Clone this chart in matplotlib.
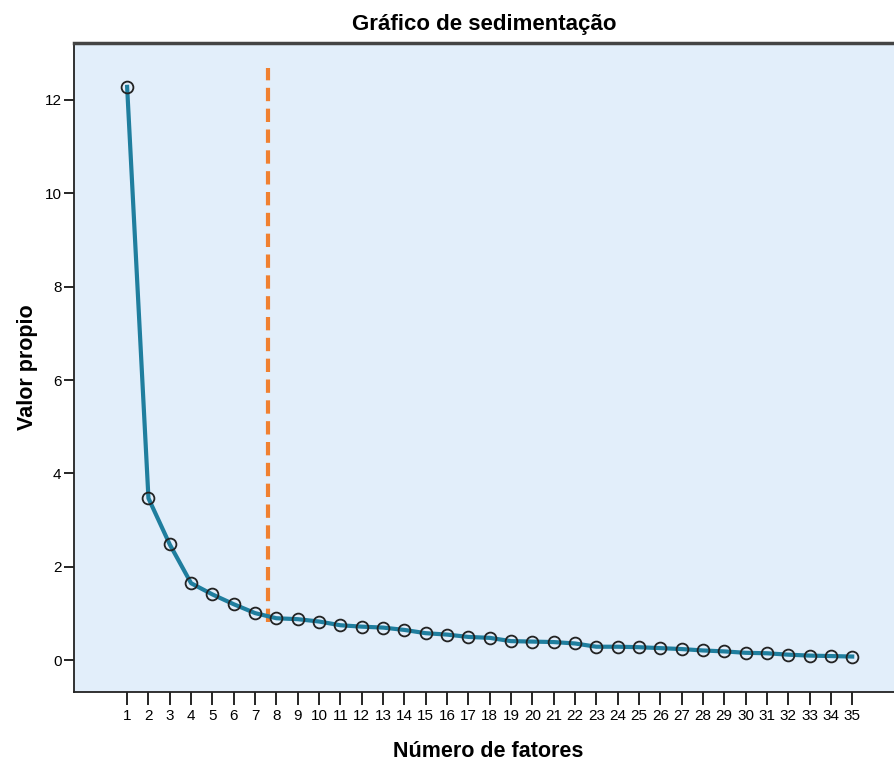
import matplotlib.pyplot as plt
import numpy as np

plt.rcParams["font.family"] = ["Liberation Sans", "DejaVu Sans"]

# -------------------------------------------------------------------------
# Data
# -------------------------------------------------------------------------
factors = list(range(1, 36))
eigenvalues = [
    12.28, 3.47, 2.48, 1.65, 1.41, 1.20, 1.01, 0.90, 0.88, 0.83,
    0.75, 0.72, 0.70, 0.65, 0.58, 0.55, 0.50, 0.48, 0.41, 0.40,
    0.39, 0.36, 0.29, 0.29, 0.28, 0.26, 0.24, 0.21, 0.19, 0.16,
    0.15, 0.12, 0.10, 0.09, 0.08,
]
cutoff_x = 7.6
cutoff_y = [0.81, 12.68]

# -------------------------------------------------------------------------
# Plot
# -------------------------------------------------------------------------
fig = plt.figure(figsize=(8.94, 7.65), dpi=100)
ax = fig.add_axes([0.0828, 0.0954, 0.9172, 0.8484])
ax.set_facecolor("#E2EEFA")

ax.plot(factors, eigenvalues, color="#1F7E9E", lw=3, zorder=3)
ax.plot(factors, eigenvalues, ls="none", marker="o", ms=8.5,
        mfc="none", mec="#222222", mew=1.3, zorder=4)
ax.vlines(cutoff_x, cutoff_y[0], cutoff_y[1], colors="#F08030",
          linestyles=(0, (3.2, 1.8)), lw=3, zorder=2)

ax.set_xlim(-1.49, 36.96)
ax.set_ylim(-0.68, 13.22)
ax.set_xticks(factors)
ax.set_xticklabels([str(f) for f in factors], fontsize=11)
ax.set_yticks(np.arange(0, 13, 2))
ax.set_yticklabels([str(v) for v in range(0, 13, 2)], fontsize=11)
ax.tick_params(axis="x", length=9, width=1.2, pad=3)
ax.tick_params(axis="y", length=7, width=1.2, pad=2)

ax.spines["right"].set_visible(False)
ax.spines["top"].set_color("#444444")
ax.spines["top"].set_linewidth(2.5)
for s in ("left", "bottom"):
    ax.spines[s].set_linewidth(1.3)
    ax.spines[s].set_color("#222222")

ax.set_title("Gráfico de sedimentação", fontsize=16, fontweight="bold", pad=9)
ax.set_xlabel("Número de fatores", fontsize=15.5, fontweight="bold")
ax.set_ylabel("Valor propio", fontsize=15.5, fontweight="bold")
ax.xaxis.set_label_coords(0.505, -0.0755)
ax.yaxis.set_label_coords(-0.044, 0.5)

fig.savefig("out.png", dpi=100)
